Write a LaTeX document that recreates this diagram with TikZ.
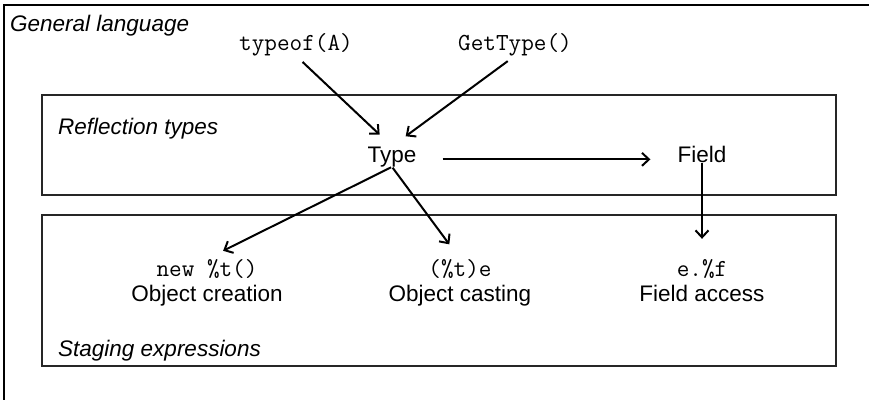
\documentclass[tikz,border=0pt]{standalone}
\usepackage{fontspec}
\setmainfont{Liberation Sans}
\usetikzlibrary{arrows.meta}
\begin{document}
\begin{tikzpicture}[x=1pt,y=-1pt,
  label/.style={inner sep=0pt,anchor=base,font=\fontsize{22.5}{26}\selectfont},
  code/.style={inner sep=0pt,anchor=base,font=\fontsize{24.5}{28}\selectfont\ttfamily},
  title/.style={inner sep=0pt,anchor=base west,font=\fontsize{22.5}{26}\selectfont\itshape},
  frame/.style={draw=black!85,line width=2pt},
  arr/.style={line width=2pt,-{Straight Barb[length=7pt,width=13pt,line width=2pt]}}]
\useasboundingbox (0,0) rectangle (869,399);
% outer region: only its top and left edges fall inside the page
\draw[frame,draw=black] (4,420) -- (4,5) -- (880,5);
\node[title] (gen) at (10,31) {General language};
\node[code] (typeof) at (296,50) {typeof(A)};
\node[code] (gettype) at (515,50) {GetType()};
% reflection types box
\draw[frame] (42,95) rectangle (836,195);
\node[title] (refl) at (58,134) {Reflection types};
\node[label] (type) at (392,162) {Type};
\node[label] (field) at (702,162) {Field};
% staging expressions box
\draw[frame] (42,215) rectangle (836,366);
\node[title] (stag) at (58,356) {Staging expressions};
\node[code] (newt) at (207,276) {new \%t()};
\node[label] (creat) at (207,301) {Object creation};
\node[code] (cast) at (460,276) {(\%t)e};
\node[label] (casting) at (460,301) {Object casting};
\node[code] (ef) at (702,276) {e.\%f};
\node[label] (access) at (702,301) {Field access};
% connectors
\draw[arr,shorten <=9pt,shorten >=17pt] (typeof.south) -- (type.north);
\draw[arr,shorten <=9pt,shorten >=17pt] (gettype.south) -- (type.north);
\draw[arr,shorten <=26pt,shorten >=27pt] (type.mid east) -- (field.mid west);
\draw[arr,shorten <=1pt,shorten >=18pt] (type.south) -- (newt.north);
\draw[arr,shorten <=1pt,shorten >=18pt] (type.south) -- (cast.north);
\draw[arr,shorten <=1pt,shorten >=20pt] (field.south) -- (ef.north);
\end{tikzpicture}
\end{document}
